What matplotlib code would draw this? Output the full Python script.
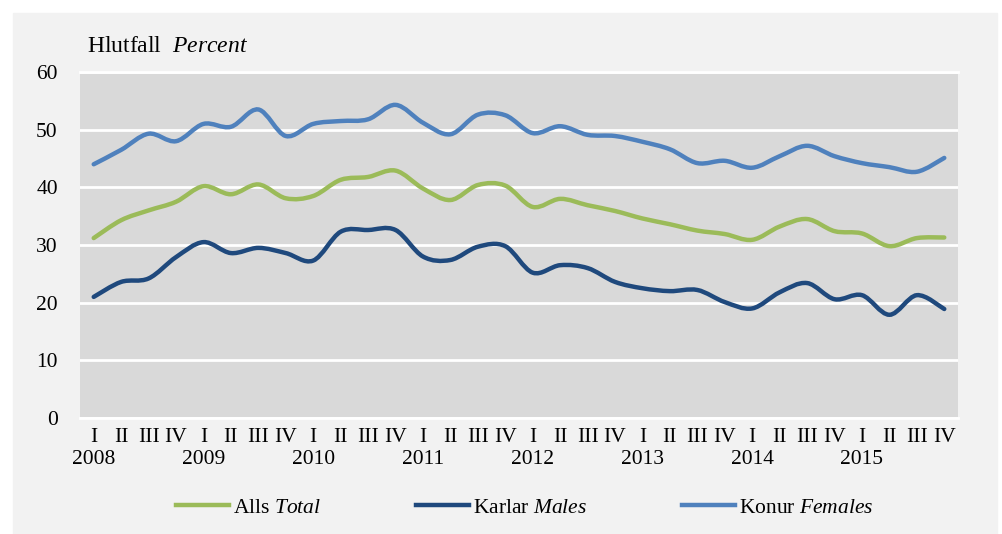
import numpy as np
import matplotlib
matplotlib.use("Agg")
from matplotlib import pyplot as plt
from matplotlib.path import Path
from matplotlib.patches import PathPatch, Rectangle
from matplotlib.transforms import blended_transform_factory

years = ['2008', '2009', '2010', '2011', '2012', '2013', '2014', '2015']
quarters = ['I', 'II', 'III', 'IV']

total = [31.2, 34.3, 36.0, 37.5, 40.2, 38.8, 40.5, 38.1,
         38.5, 41.3, 41.8, 42.9, 39.8, 37.8, 40.4, 40.3,
         36.6, 38.0, 36.9, 35.9, 34.6, 33.6, 32.5, 31.9,
         30.9, 33.2, 34.5, 32.4, 32.0, 29.8, 31.2, 31.3]
males = [21.0, 23.6, 24.2, 27.9, 30.5, 28.6, 29.5, 28.6,
         27.3, 32.3, 32.6, 32.6, 28.0, 27.4, 29.7, 29.8,
         25.2, 26.5, 26.0, 23.6, 22.5, 22.0, 22.2, 20.1,
         19.0, 21.8, 23.4, 20.6, 21.3, 17.9, 21.3, 18.9]
females = [44.0, 46.5, 49.3, 48.0, 51.0, 50.5, 53.5, 48.9,
           51.0, 51.5, 51.8, 54.3, 51.2, 49.2, 52.6, 52.5,
           49.4, 50.6, 49.1, 48.9, 47.9, 46.6, 44.2, 44.6,
           43.4, 45.4, 47.2, 45.4, 44.2, 43.5, 42.7, 45.1]

plt.rcParams['font.family'] = ['Liberation Serif', 'DejaVu Serif']
plt.rcParams['mathtext.fontset'] = 'custom'
plt.rcParams['mathtext.rm'] = 'Liberation Serif'
plt.rcParams['mathtext.it'] = 'Liberation Serif:italic'


def smooth_path(x, y):
    # Bezier segments like a spreadsheet "smoothed line"
    x = np.asarray(x, float)
    y = np.asarray(y, float)
    n = len(x)
    verts = [(x[0], y[0])]
    codes = [Path.MOVETO]
    for i in range(n - 1):
        p0 = i - 1 if i > 0 else i
        p3 = i + 2 if i + 2 < n else i + 1
        c1 = (x[i] + (x[i + 1] - x[p0]) / 6, y[i] + (y[i + 1] - y[p0]) / 6)
        c2 = (x[i + 1] - (x[p3] - x[i]) / 6, y[i + 1] - (y[p3] - y[i]) / 6)
        verts += [c1, c2, (x[i + 1], y[i + 1])]
        codes += [Path.CURVE4] * 3
    return Path(verts, codes)


fig = plt.figure(figsize=(10.02, 5.34), dpi=100)
fig.patches.append(Rectangle((13 / 1002, 0), 984 / 1002, 521 / 534,
                             transform=fig.transFigure, color='#f2f2f2', zorder=-10))

ax = fig.add_axes([80 / 1002, 1 - 418 / 534, 878 / 1002, 346 / 534])
ax.set_facecolor('#d9d9d9')
for s in ax.spines.values():
    s.set_visible(False)

xs = np.arange(len(total))
series = [(total, '#9bbb59', 'Alls $\\mathit{Total}$'),
          (males, '#1f497d', 'Karlar $\\mathit{Males}$'),
          (females, '#4f81bd', 'Konur $\\mathit{Females}$')]
handles = []
for vals, col, lab in series:
    ax.add_patch(PathPatch(smooth_path(xs, vals), fill=False, edgecolor=col,
                           lw=3.2, capstyle='round', zorder=3))
    h, = ax.plot([], [], color=col, lw=3.2, label=lab)
    handles.append(h)

ax.set_xlim(-0.5, len(total) - 0.5)
ax.set_ylim(0, 60)
ax.set_yticks(range(0, 61, 10))
ax.yaxis.grid(True, color='white', lw=2)
ax.set_axisbelow(True)
ax.axhline(60, color='white', lw=2, zorder=1, clip_on=False)
ax.axhline(0, color='white', lw=2, zorder=1, clip_on=False)

ax.set_xticks(xs)
ax.set_xticklabels(quarters * len(years))
ax.tick_params(length=0, labelsize=15.5, colors='black')
ax.tick_params(axis='x', pad=7)
ax.tick_params(axis='y', pad=16)

trans = blended_transform_factory(ax.transData, fig.transFigure)
for k, y in enumerate(years):
    ax.text(4 * k, 1 - 460 / 534, y, transform=trans, ha='center', va='center',
            fontsize=15.5)

fig.text(87 / 1002, 1 - 47 / 534, 'Hlutfall  $\\mathit{Percent}$', fontsize=17,
         va='center', ha='left')

fig.legend(handles=handles, loc='center', bbox_to_anchor=(525 / 1002, 1 - 508 / 534),
           ncol=3, frameon=False, fontsize=15.5, handlelength=2.45, columnspacing=4.4,
           handletextpad=0.2)

fig.savefig('out.png', dpi=100)
